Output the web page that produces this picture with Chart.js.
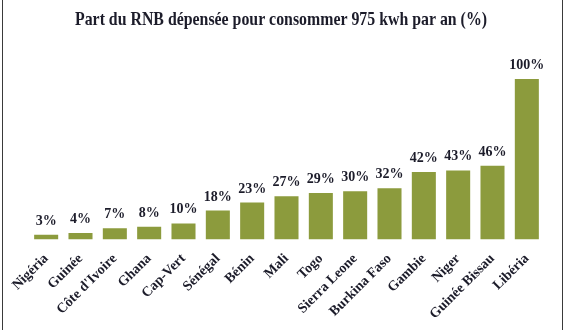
<!DOCTYPE html>
<html>
<head>
<meta charset="utf-8">
<script src="https://cdn.jsdelivr.net/npm/chart.js@4"></script>
<style>
  body { margin: 0; background: #fff; }
  #wrap { position: relative; width: 567px; height: 330px; }
  #frame { position: absolute; left: 2px; top: 0; width: 559px; height: 330px;
           border-left: 1px solid #3a3a3a; border-right: 1px solid #3a3a3a; pointer-events: none; }
</style>
</head>
<body>
<div id="wrap">
  <canvas id="chart" width="567" height="330"></canvas>
  <div id="frame"></div>
</div>
<script>
// pays et part du RNB (%)
const pays = ['Nigéria', 'Guinée', "Côte d'Ivoire", 'Ghana', 'Cap-Vert', 'Sénégal', 'Bénin', 'Mali',
  'Togo', 'Sierra Leone', 'Burkina Faso', 'Gambie', 'Niger', 'Guinée Bissau', 'Libéria'];
const partRNB = [3, 4, 7, 8, 10, 18, 23, 27, 29, 30, 32, 42, 43, 46, 100];
const titre = 'Part du RNB dépensée pour consommer 975 kwh par an (%)';

const serif = '"Liberation Serif", "Times New Roman", serif';

// titre un peu resserré, comme dans l'original
const titrePlugin = {
  id: 'titrePlugin',
  afterDraw(chart) {
    const ctx = chart.ctx;
    ctx.save();
    ctx.font = 'bold 19px ' + serif;
    ctx.fillStyle = '#1c1c2a';
    ctx.textAlign = 'center';
    ctx.textBaseline = 'alphabetic';
    const w = ctx.measureText(titre).width;
    const sx = 412 / w;
    ctx.translate(281, 25);
    ctx.scale(sx, 1);
    ctx.fillText(titre, 0, 0);
    ctx.restore();
  }
};

// étiquettes au-dessus des barres
const valueLabels = {
  id: 'valueLabels',
  afterDatasetsDraw(chart) {
    const ctx = chart.ctx;
    const meta = chart.getDatasetMeta(0);
    ctx.save();
    ctx.font = 'bold 14px ' + serif;
    ctx.fillStyle = '#1c1c2a';
    ctx.textAlign = 'center';
    ctx.textBaseline = 'alphabetic';
    meta.data.forEach((bar, i) => {
      ctx.fillText(partRNB[i] + '%', bar.x, bar.y - 10);
    });
    ctx.restore();
  }
};

new Chart(document.getElementById('chart'), {
  type: 'bar',
  data: {
    labels: pays,
    datasets: [{
      data: partRNB,
      backgroundColor: '#8c9b3d',
      borderWidth: 0,
      categoryPercentage: 1,
      barPercentage: 0.7
    }]
  },
  options: {
    responsive: false,
    animation: false,
    layout: { padding: { left: 29, right: 23, top: 79, bottom: 0 } },
    plugins: {
      legend: { display: false },
      tooltip: { enabled: false },
      title: { display: false }
    },
    scales: {
      y: { display: false, min: 0, max: 100 },
      x: {
        grid: { display: false },
        border: { display: false },
        ticks: {
          color: '#1c1c2a',
          font: { family: serif, size: 14, weight: 'bold' },
          minRotation: 45,
          maxRotation: 45,
          autoSkip: false,
          padding: 3
        },
        afterFit(scale) { scale.height = 90.5; }
      }
    }
  },
  plugins: [valueLabels, titrePlugin]
});
</script>
</body>
</html>
